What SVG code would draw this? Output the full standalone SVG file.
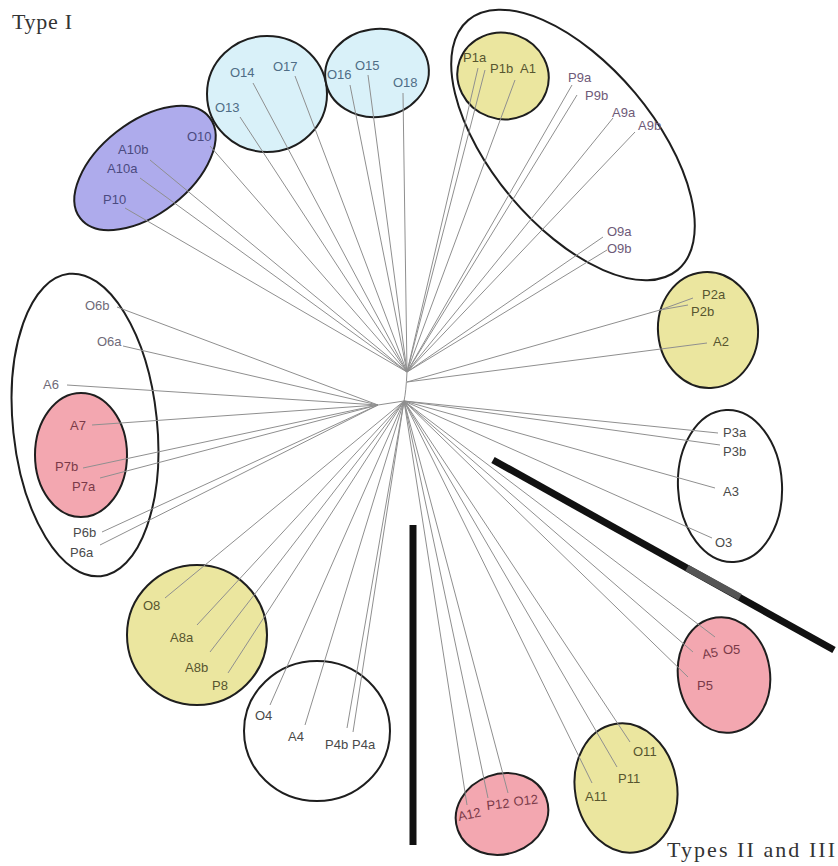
<svg xmlns="http://www.w3.org/2000/svg" width="838" height="866" viewBox="0 0 838 866">
<style>
.e{stroke:#1e1e1e;stroke-width:2}
.w{fill:none}
.b{fill:#d9f1f9}
.p{fill:#aeabec}
.y{fill:#ebe69f}
.r{fill:#f3a7b0}
.c line,.c path{stroke:#8f8f8f;stroke-width:1;fill:none}
text{font-family:"Liberation Sans",Arial,sans-serif;font-size:13px}
.tb{fill:#4f6d86}.tp{fill:#4b4a80}.to{fill:#57552f}.tm{fill:#6e5a78}.tg{fill:#4a4a4a}.tr{fill:#7a3a48}.tq{fill:#6f6a78}
.h{font-family:"Liberation Serif","Times New Roman",serif;fill:#333}
</style>
<rect width="838" height="866" fill="#fff"/>
<text class="h" x="12" y="29" style="font-size:22px" textLength="60">Type I</text>
<text class="h" x="667" y="857" style="font-size:22px" textLength="168">Types II  and III</text>

<g id="ellipses">
<g id="g-a10"><ellipse class="e p" cx="145" cy="168" rx="82" ry="46" transform="rotate(-38 145 168)"/></g>
<g id="g-o13"><ellipse class="e b" cx="267" cy="94" rx="60" ry="58"/></g>
<g id="g-o15"><ellipse class="e b" cx="377" cy="73" rx="52" ry="44" transform="rotate(-8 377 73)"/></g>
<g id="g-9"><ellipse class="e w" cx="573" cy="145" rx="163" ry="81" transform="rotate(50 573 145)"/></g>
<g id="g-1"><ellipse class="e y" cx="503" cy="76" rx="46" ry="43" transform="rotate(20 503 76)"/></g>
<g id="g-2"><ellipse class="e y" cx="708" cy="330" rx="50" ry="58" transform="rotate(-5 708 330)"/></g>
<g id="g-3"><ellipse class="e w" cx="730" cy="486" rx="52" ry="76" transform="rotate(-3 730 486)"/></g>
<g id="g-6"><ellipse class="e w" cx="85" cy="425" rx="72" ry="152" transform="rotate(-6 85 425)"/></g>
<g id="g-7"><ellipse class="e r" cx="81" cy="455" rx="46" ry="62"/></g>
<g id="g-8"><ellipse class="e y" cx="197" cy="635" rx="70" ry="70"/></g>
<g id="g-4"><ellipse class="e w" cx="317" cy="731" rx="73" ry="70"/></g>
<g id="g-12"><ellipse class="e r" cx="502" cy="814" rx="47" ry="40" transform="rotate(-20 502 814)"/></g>
<g id="g-11"><ellipse class="e y" cx="626" cy="788" rx="51" ry="65" transform="rotate(-10 626 788)"/></g>
<g id="g-5"><ellipse class="e r" cx="724" cy="675" rx="46" ry="58" transform="rotate(-8 724 675)"/></g>
</g>

<g id="connectors" class="c">
<path d="M407,372 Q406,392 404,401 L378,405"/>
<line x1="407" y1="372" x2="210" y2="146"/>
<line x1="407" y1="372" x2="150" y2="160"/>
<line x1="407" y1="372" x2="140" y2="178"/>
<line x1="407" y1="372" x2="125" y2="208"/>
<line x1="407" y1="372" x2="240" y2="117"/>
<line x1="407" y1="372" x2="253" y2="83"/>
<line x1="407" y1="372" x2="295" y2="76"/>
<line x1="407" y1="372" x2="350" y2="85"/>
<line x1="407" y1="372" x2="368" y2="75"/>
<line x1="407" y1="372" x2="403" y2="93"/>
<line x1="407" y1="372" x2="478" y2="68"/>
<line x1="407" y1="372" x2="485" y2="70"/>
<line x1="407" y1="372" x2="515" y2="80"/>
<line x1="407" y1="372" x2="572" y2="85"/>
<line x1="407" y1="372" x2="577" y2="95"/>
<line x1="407" y1="372" x2="613" y2="118"/>
<line x1="407" y1="372" x2="635" y2="132"/>
<line x1="407" y1="372" x2="603" y2="237"/>
<line x1="407" y1="372" x2="607" y2="250"/>
<path d="M407,382 L660,310 L693,298 M660,310 L688,305"/>
<line x1="407" y1="382" x2="707" y2="343"/>
<line x1="404" y1="401" x2="718" y2="433"/>
<line x1="404" y1="401" x2="720" y2="445"/>
<line x1="404" y1="401" x2="715" y2="488"/>
<line x1="404" y1="401" x2="712" y2="538"/>
<line x1="404" y1="401" x2="715" y2="637"/>
<line x1="404" y1="401" x2="693" y2="652"/>
<line x1="404" y1="401" x2="688" y2="677"/>
<line x1="404" y1="401" x2="630" y2="742"/>
<line x1="404" y1="401" x2="617" y2="767"/>
<line x1="404" y1="401" x2="592" y2="783"/>
<line x1="404" y1="401" x2="508" y2="793"/>
<line x1="404" y1="401" x2="488" y2="798"/>
<line x1="404" y1="401" x2="467" y2="805"/>
<line x1="404" y1="401" x2="353" y2="732"/>
<line x1="404" y1="401" x2="347" y2="728"/>
<line x1="404" y1="401" x2="305" y2="725"/>
<line x1="404" y1="401" x2="270" y2="705"/>
<line x1="404" y1="401" x2="228" y2="673"/>
<line x1="404" y1="401" x2="210" y2="652"/>
<line x1="404" y1="401" x2="197" y2="625"/>
<line x1="404" y1="401" x2="165" y2="598"/>
<line x1="378" y1="405" x2="117" y2="307"/>
<line x1="378" y1="405" x2="123" y2="346"/>
<line x1="378" y1="405" x2="67" y2="385"/>
<line x1="378" y1="405" x2="92" y2="425"/>
<line x1="378" y1="405" x2="83" y2="468"/>
<line x1="378" y1="405" x2="100" y2="478"/>
<line x1="378" y1="405" x2="102" y2="532"/>
<line x1="378" y1="405" x2="100" y2="545"/>
</g>

<g id="bars">
<line x1="493" y1="460" x2="834" y2="650" stroke="#111" stroke-width="7"/>
<line x1="687" y1="568" x2="740" y2="597" stroke="#555" stroke-width="7"/>
<line x1="413" y1="525" x2="413" y2="845" stroke="#111" stroke-width="7"/>
</g>

<g id="labels">
<text class="tp" x="187" y="141">O10</text>
<text class="tp" x="118" y="154">A10b</text>
<text class="tp" x="107" y="173">A10a</text>
<text class="tp" x="103" y="204">P10</text>
<text class="tb" x="215" y="112">O13</text>
<text class="tb" x="230" y="77">O14</text>
<text class="tb" x="273" y="71">O17</text>
<text class="tb" x="327" y="79">O16</text>
<text class="tb" x="355" y="70">O15</text>
<text class="tb" x="393" y="87">O18</text>
<text class="to" x="463" y="62">P1a</text>
<text class="to" x="490" y="73">P1b</text>
<text class="to" x="520" y="73">A1</text>
<text class="tm" x="568" y="82">P9a</text>
<text class="tm" x="585" y="100">P9b</text>
<text class="tm" x="612" y="117">A9a</text>
<text class="tm" x="638" y="130">A9b</text>
<text class="tm" x="607" y="236">O9a</text>
<text class="tm" x="607" y="253">O9b</text>
<text class="to" x="702" y="299">P2a</text>
<text class="to" x="691" y="316">P2b</text>
<text class="to" x="713" y="346">A2</text>
<text class="tg" x="723" y="437">P3a</text>
<text class="tg" x="723" y="456">P3b</text>
<text class="tg" x="723" y="496">A3</text>
<text class="tg" x="715" y="547">O3</text>
<text class="tr" x="703" y="659" transform="rotate(-10 703 659)">A5</text>
<text class="tr" x="723" y="654">O5</text>
<text class="tr" x="697" y="690">P5</text>
<text class="to" x="633" y="756">O11</text>
<text class="to" x="618" y="783">P11</text>
<text class="to" x="585" y="801">A11</text>
<text class="tr" x="459" y="821" transform="rotate(-12 459 821)">A12</text>
<text class="tr" x="487" y="810" transform="rotate(-6 487 810)">P12</text>
<text class="tr" x="514" y="806" transform="rotate(-6 514 806)">O12</text>
<text class="tq" x="85" y="310">O6b</text>
<text class="tq" x="97" y="346">O6a</text>
<text class="tq" x="43" y="389">A6</text>
<text class="tr" x="70" y="430">A7</text>
<text class="tr" x="55" y="471">P7b</text>
<text class="tr" x="72" y="491">P7a</text>
<text class="tg" x="73" y="537">P6b</text>
<text class="tg" x="70" y="557">P6a</text>
<text class="to" x="143" y="610">O8</text>
<text class="to" x="170" y="642">A8a</text>
<text class="to" x="185" y="672">A8b</text>
<text class="to" x="212" y="690">P8</text>
<text class="tg" x="255" y="720">O4</text>
<text class="tg" x="288" y="741">A4</text>
<text class="tg" x="325" y="749">P4b</text>
<text class="tg" x="352" y="749">P4a</text>
</g>
</svg>
